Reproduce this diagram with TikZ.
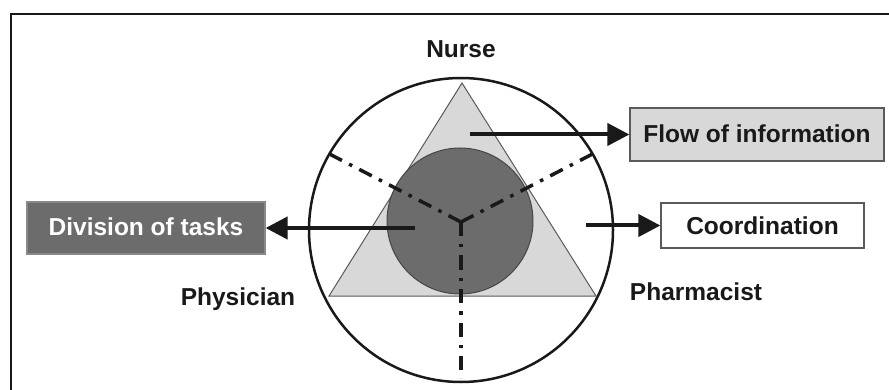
\documentclass[tikz,border=0pt]{standalone}
\usepackage{fontspec}
\setmainfont{Liberation Sans}
\usetikzlibrary{arrows.meta}
\definecolor{lightfill}{RGB}{216,216,216}
\definecolor{darkfill}{RGB}{108,108,108}
\definecolor{inkc}{RGB}{25,25,25}
\definecolor{edgec}{RGB}{90,90,90}
\tikzset{
  lbl/.style={font=\fontsize{24.5}{28}\selectfont\bfseries, text=inkc, inner sep=0pt, anchor=base},
  boxlbl/.style={draw=edgec, line width=1.2pt, inner sep=0pt},
  bigarrow/.style={draw=inkc, line width=4pt, -{Triangle[length=22pt,width=22pt]}},
  dashdot/.style={draw=inkc, line width=3.5pt, dash pattern=on 14pt off 8pt on 3.5pt off 8pt},
}
\begin{document}
\begin{tikzpicture}[x=1pt,y=-1pt]
\useasboundingbox (0,0) rectangle (889,390);
% frame
\draw[inkc, line width=2pt] (11,390) -- (11,14) -- (889,14);
% outer ring
\node[circle, draw=inkc, line width=2.5pt, fill=white, minimum size=304pt, inner sep=0pt] (ring) at (461,230) {};
% triangle
\coordinate (tA) at (462,83);
\coordinate (tB) at (329,296);
\coordinate (tC) at (596,296);
\draw[fill=lightfill, draw=edgec, line width=1pt] (tA) -- (tB) -- (tC) -- cycle;
% core circle
\node[circle, draw=inkc!80, line width=1pt, fill=darkfill, minimum size=146pt, inner sep=0pt] (core) at (460,221) {};
% dash-dot Y
\coordinate (hub) at (461,222);
\draw[dashdot] (hub) -- (ring.150);
\draw[dashdot] (hub) -- (ring.30);
\draw[dashdot] (hub) -- (461,378) coordinate (ybot);
% labels
\node[lbl] (nurse) at (461,58) {Nurse};
\node[lbl] (phys) at (238,305) {Physician};
\node[lbl] (pharm) at (696,300) {Pharmacist};
% boxes
\node[boxlbl, fill=lightfill, minimum width=254pt, minimum height=53pt] (flow) at (757,134.5) {};
\node[lbl] at (757,143) {Flow of information};
\node[boxlbl, fill=white, minimum width=203pt, minimum height=45pt] (coord) at (762.5,225.5) {};
\node[lbl] at (762.5,235) {Coordination};
\node[boxlbl, draw=darkfill!80, fill=darkfill, minimum width=238pt, minimum height=52pt] (div) at (146,228) {};
\node[lbl, text=white] at (146,236) {Division of tasks};
% arrows
\coordinate (fs) at (470,134.5);
\coordinate (cs) at (586,225.5);
\coordinate (ds) at (415,228);
\draw[bigarrow] (fs) -- (flow.west);
\draw[bigarrow] (cs) -- (coord.west);
\draw[bigarrow] (ds) -- (div.east);
\end{tikzpicture}
\end{document}
